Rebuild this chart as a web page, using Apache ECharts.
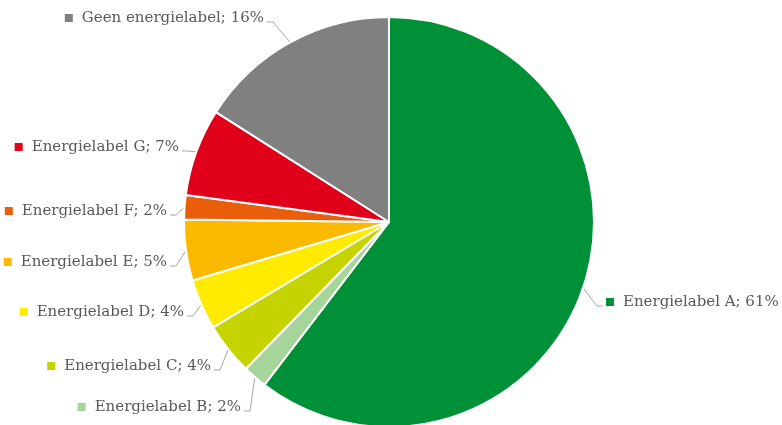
<!DOCTYPE html>
<html><head><meta charset="utf-8">
<script src="https://cdn.jsdelivr.net/npm/echarts@6/dist/echarts.min.js"></script>
<style>html,body{margin:0;padding:0;background:#fff}#c{width:782px;height:425px}</style>
</head><body><div id="c"></div>
<script>
const categories = ['Energielabel A','Energielabel B','Energielabel C','Energielabel D','Energielabel E','Energielabel F','Energielabel G','Geen energielabel'];
const values = [60.4, 1.9, 4.1, 4.0, 4.8, 1.9, 6.9, 16.0];
const labelPercents = ['61%','2%','4%','4%','5%','2%','7%','16%'];
const colors = ['#009138','#a5d59b','#c5d300','#ffeb00','#fbb900','#ea5e0b','#e1001a','#808080'];
// label anchor (text end for left-side labels, marker start for right-side) and vertical centre
const labelAnchorX = [606, 241, 211, 184, 167, 167, 179, 264];
const labelAnchorY = [302, 407, 366, 312, 262, 211, 147, 18];

const FONT = "'DejaVu Serif', serif";
const chart = echarts.init(document.getElementById('c'), null, {renderer:'canvas'});
const data = categories.map((n,i)=>({
  name:n, value:values[i],
  itemStyle:{color:colors[i]},
  label:{rich:{m:{backgroundColor:colors[i],width:8,height:8}}}
}));
chart.setOption({
  animation:false,
  series:[{
    type:'pie',
    center:[389,222],
    radius:[0,205],
    startAngle:90,
    clockwise:true,
    data:data,
    itemStyle:{borderColor:'#fff',borderWidth:2},
    label:{
      show:true,
      overflow:'none',
      formatter:p=>'{m|}{t|'+p.name+'; '+labelPercents[p.dataIndex]+'}',
      rich:{t:{fontFamily:FONT,fontSize:15,color:'#595959',padding:[0,0,0,9]}},
      fontFamily:FONT,fontSize:15,color:'#595959'
    },
    labelLine:{show:true,length:12,length2:6,lineStyle:{color:'#a6a6a6',width:1}},
    labelLayout:function(p){
      const i=p.dataIndex;
      const right = i===0;
      const x=labelAnchorX[i], y=labelAnchorY[i];
      const start=p.labelLinePoints?p.labelLinePoints[0]:[x,y];
      const endX = right ? x-3 : x+3;
      const bendX = right ? x-9 : x+9;
      return {
        x:x, y:y, align: right?'left':'right', verticalAlign:'middle',
        labelLinePoints:[start,[bendX,y+4],[endX,y+4]]
      };
    }
  }]
});
</script></body></html>
